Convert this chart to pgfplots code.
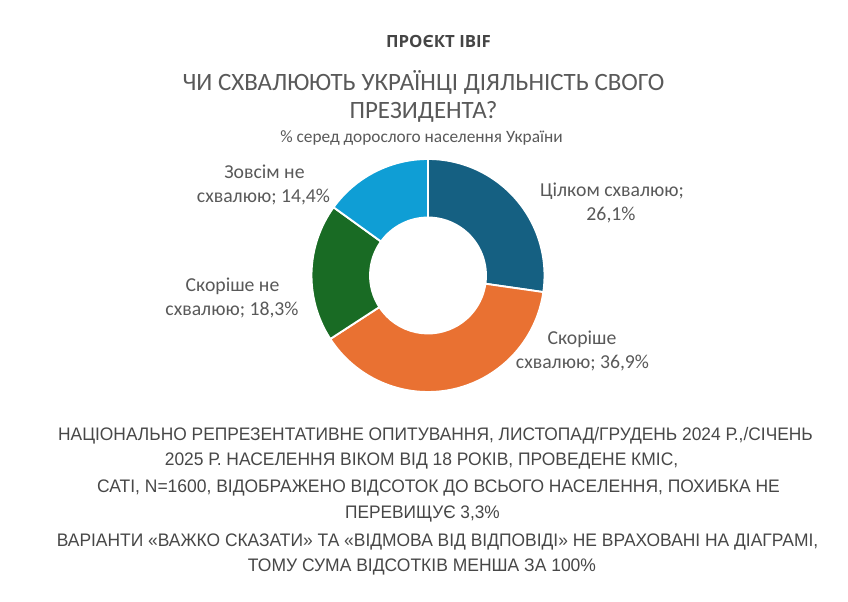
\documentclass[border=0pt]{standalone}
\usepackage{pgfplots}
\pgfplotsset{compat=1.18}
\usepackage{pgfplotstable}
\usepackage{graphicx}
\usepackage{fontspec}
\setmainfont{Carlito}
\newfontfamily\bottomfont{Liberation Sans}
\newfontfamily\headfont{Open Sans}
\definecolor{cA}{HTML}{156082}
\definecolor{cB}{HTML}{E97132}
\definecolor{cC}{HTML}{196B24}
\definecolor{cD}{HTML}{0F9ED5}
\definecolor{txt}{HTML}{595959}
\definecolor{btxt}{HTML}{474747}
\definecolor{htxt}{HTML}{454545}

% shares (%), in clockwise order from 12 o'clock
\pgfplotstableread{
value
26.1
36.9
18.3
14.4
}\piedata

\pgfplotstablegetelem{0}{value}\of\piedata\edef\vA{\pgfplotsretval}%
\pgfplotstablegetelem{1}{value}\of\piedata\edef\vB{\pgfplotsretval}%
\pgfplotstablegetelem{2}{value}\of\piedata\edef\vC{\pgfplotsretval}%
\pgfplotstablegetelem{3}{value}\of\piedata\edef\vD{\pgfplotsretval}%
\pgfmathsetmacro\tot{\vA+\vB+\vC+\vD}%
\pgfmathsetmacro\aA{90}%
\pgfmathsetmacro\aB{\aA-360*\vA/\tot}%
\pgfmathsetmacro\aC{\aB-360*\vB/\tot}%
\pgfmathsetmacro\aD{\aC-360*\vC/\tot}%
\pgfmathsetmacro\aE{\aD-360*\vD/\tot}%
\def\cx{428}\def\cy{326.5}\def\Ro{116.5}\def\Ri{58}%
\pgfmathsetmacro\RoPt{\Ro*0.75}%
\pgfmathsetmacro\RiPt{\Ri*0.75}%

\newcommand\donutslice[3]{%
  \fill[#3, draw=white, line width=1.4pt, line join=miter]
    (axis cs:{\cx+\Ro*cos(#1)},{\cy+\Ro*sin(#1)})
    arc[start angle=#1, end angle=#2, radius=\RoPt pt]
    -- (axis cs:{\cx+\Ri*cos(#2)},{\cy+\Ri*sin(#2)})
    arc[start angle=#2, end angle=#1, radius=\RiPt pt]
    -- cycle;}
\newcommand\lbl[3]{\node[anchor=base, text=txt, font=\fontsize{14.8}{18}\selectfont, inner sep=0pt] at (axis cs:#1,#2) {#3};}
\newcommand\bl[4]{\node[anchor=base, text=btxt, inner sep=0pt] at (axis cs:#1,#2) {\resizebox{#3pt}{\height}{\bottomfont\fontsize{13.6}{15}\selectfont #4}};}

\begin{document}
\begin{tikzpicture}
\begin{axis}[x=0.75pt, y=0.75pt, xmin=0, xmax=848, ymin=0, ymax=602,
  hide axis, clip=false, scale only axis]
\path (axis cs:0,0) rectangle (axis cs:848,602);
\donutslice{\aA}{\aB}{cA}
\donutslice{\aB}{\aC}{cB}
\donutslice{\aC}{\aD}{cC}
\donutslice{\aD}{\aE}{cD}
% header and titles
\node[anchor=base, text=htxt, inner sep=0pt, font=\headfont\bfseries\fontsize{12.6}{14}\selectfont] at (axis cs:438.5,554) {ПРОЄКТ ІВІF};
\node[anchor=base, text=txt, inner sep=0pt, font=\fontsize{18.7}{23}\selectfont] at (axis cs:423.5,511) {ЧИ СХВАЛЮЮТЬ УКРАЇНЦІ ДІЯЛЬНІСТЬ СВОГО};
\node[anchor=base, text=txt, inner sep=0pt, font=\fontsize{18.7}{23}\selectfont] at (axis cs:423.5,483) {ПРЕЗИДЕНТА?};
\node[anchor=base, text=txt, inner sep=0pt, font=\fontsize{13}{15}\selectfont] at (axis cs:421.5,459) {\% серед дорослого населення України};
% data labels
\lbl{612}{405}{Цілком схвалюю;}
\lbl{611}{381}{26,1\%}
\lbl{264.5}{423}{Зовсім не}
\lbl{263.5}{399}{схвалюю; 14,4\%}
\lbl{232.5}{310}{Скоріше не}
\lbl{232}{286}{схвалюю; 18,3\%}
\lbl{582}{257}{Скоріше}
\lbl{582.5}{233}{схвалюю; 36,9\%}
% footnote
\bl{435.5}{161}{566}{НАЦІОНАЛЬНО РЕПРЕЗЕНТАТИВНЕ ОПИТУВАННЯ, ЛИСТОПАД/ГРУДЕНЬ 2024 Р.,/СІЧЕНЬ}
\bl{421.5}{136}{385}{2025 Р. НАСЕЛЕННЯ ВІКОМ ВІД 18 РОКІВ, ПРОВЕДЕНЕ КМІС,}
\bl{438.5}{109}{512}{САТІ, N=1600, ВІДОБРАЖЕНО ВІДСОТОК ДО ВСЬОГО НАСЕЛЕННЯ, ПОХИБКА НЕ}
\bl{422.5}{83}{116}{ПЕРЕВИЩУЄ 3,3\%}
\bl{437.5}{55}{571}{ВАРІАНТИ «ВАЖКО СКАЗАТИ» ТА «ВІДМОВА ВІД ВІДПОВІДІ» НЕ ВРАХОВАНІ НА ДІАГРАМІ,}
\bl{422}{30}{261}{ТОМУ СУМА ВІДСОТКІВ МЕНША ЗА 100\%}
\end{axis}
\end{tikzpicture}
\end{document}
